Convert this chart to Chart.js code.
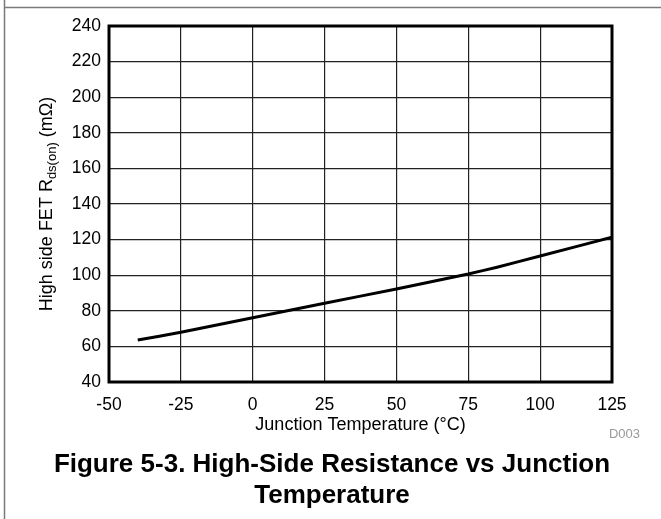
<!DOCTYPE html>
<html lang="en">
<head>
    <meta charset="UTF-8">
    <title>High-Side Resistance vs Junction Temperature</title>
    <script src="https://cdn.jsdelivr.net/npm/chart.js"></script>
    <style>
        html, body { margin: 0; padding: 0; background: #fff; }
        #wrap { position: relative; width: 661px; height: 519px; }
        #grafico { position: absolute; left: 0; top: 0; }
    </style>
</head>
<body>
    <div id="wrap">
        <canvas id="grafico" width="661" height="519"></canvas>
    </div>

    <script>
        // values
        const temperaturas = [-40, -25, 0, 25, 50, 75, 85, 100, 125];
        const resistencias = [63.6, 67.9, 76.1, 84.2, 92.3, 100.7, 104.5, 110.8, 121.3];

        const xMin = -50, xMax = 125, xPasso = 25;
        const yMin = 40, yMax = 240, yPasso = 20;

        const tituloX = 'Junction Temperature (\u00B0C)';
        const tituloY = ['High side FET R', 'ds(on)', ' (m\u03A9)'];
        const codigo = 'D003';
        const legenda = ['Figure 5-3. High-Side Resistance vs Junction', 'Temperature'];

        const fonte = '"Liberation Sans", Arial, Helvetica, sans-serif';

        const pontos = temperaturas.map((t, i) => ({ x: t, y: resistencias[i] }));

        // frame, thick plot border and all the loose text
        const textos = {
            id: 'textos',
            beforeDraw(chart) {
                const ctx = chart.ctx;
                ctx.save();
                ctx.strokeStyle = '#7a7a7a';
                ctx.lineWidth = 1.5;
                ctx.beginPath();
                ctx.moveTo(4.5, 0);
                ctx.lineTo(4.5, chart.height);
                ctx.moveTo(4.5, 7.5);
                ctx.lineTo(chart.width, 7.5);
                ctx.stroke();
                ctx.restore();
            },
            afterDraw(chart) {
                const ctx = chart.ctx;
                const a = chart.chartArea;
                ctx.save();

                ctx.strokeStyle = '#000';
                ctx.lineWidth = 3;
                ctx.strokeRect(a.left, a.top, a.right - a.left, a.bottom - a.top);

                ctx.fillStyle = '#000';
                ctx.textBaseline = 'middle';

                // x title
                ctx.font = '18px ' + fonte;
                ctx.textAlign = 'center';
                ctx.fillText(tituloX, (a.left + a.right) / 2, a.bottom + 43);

                // y title with subscript
                ctx.save();
                ctx.translate(47, (a.top + a.bottom) / 2);
                ctx.rotate(-Math.PI / 2);
                ctx.textAlign = 'left';
                ctx.font = '18px ' + fonte;
                const w0 = ctx.measureText(tituloY[0]).width;
                const w2 = ctx.measureText(tituloY[2]).width;
                ctx.font = '13px ' + fonte;
                const w1 = ctx.measureText(tituloY[1]).width;
                let x = -(w0 + w1 + w2) / 2;
                ctx.font = '18px ' + fonte;
                ctx.fillText(tituloY[0], x, 0);
                x += w0;
                ctx.font = '13px ' + fonte;
                ctx.fillText(tituloY[1], x, 5);
                x += w1;
                ctx.font = '18px ' + fonte;
                ctx.fillText(tituloY[2], x, 0);
                ctx.restore();

                // figure code
                ctx.fillStyle = '#9a9a9a';
                ctx.font = '13px ' + fonte;
                ctx.textAlign = 'right';
                ctx.fillText(codigo, 640, a.bottom + 52);

                // caption
                ctx.fillStyle = '#000';
                ctx.font = 'bold 26px ' + fonte;
                ctx.textAlign = 'center';
                ctx.fillText(legenda[0], 332, 465);
                ctx.fillText(legenda[1], 332, 496);

                ctx.restore();
            }
        };

        const ctx = document.getElementById('grafico').getContext('2d');

        new Chart(ctx, {
            type: 'scatter',
            data: {
                datasets: [{
                    data: pontos,
                    showLine: true,
                    borderColor: '#000',
                    borderWidth: 3,
                    pointRadius: 0,
                    tension: 0.1,
                    fill: false
                }]
            },
            options: {
                responsive: false,
                animation: false,
                devicePixelRatio: 1,
                layout: { padding: { top: 26, right: 49, bottom: 0, left: 0 } },
                plugins: {
                    legend: { display: false },
                    tooltip: { enabled: false }
                },
                scales: {
                    x: {
                        type: 'linear',
                        min: xMin,
                        max: xMax,
                        afterFit(scale) { scale.height = 137; },
                        border: { display: false },
                        grid: { color: '#222', lineWidth: 1.2, drawTicks: false },
                        ticks: {
                            stepSize: xPasso,
                            padding: 13,
                            color: '#000',
                            font: { family: fonte, size: 17.5 }
                        }
                    },
                    y: {
                        type: 'linear',
                        min: yMin,
                        max: yMax,
                        afterFit(scale) { scale.width = 109; },
                        border: { display: false },
                        grid: { color: '#222', lineWidth: 1.2, drawTicks: false },
                        ticks: {
                            stepSize: yPasso,
                            padding: 8,
                            color: '#000',
                            font: { family: fonte, size: 17.5 }
                        }
                    }
                }
            },
            plugins: [textos]
        });
    </script>
</body>
</html>
